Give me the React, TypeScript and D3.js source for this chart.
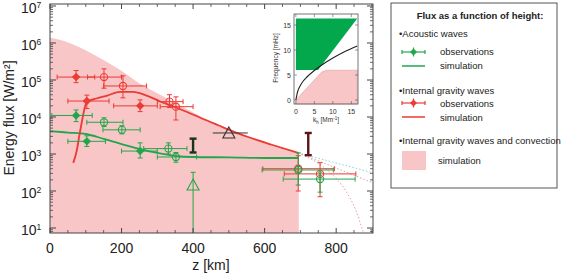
import React from "react";
import * as d3 from "d3";

const W = 561;
const H = 273;
const FONT = "'Liberation Sans', Arial, sans-serif";

// acoustic waves, observations (z in km, flux in W/m2)
const acZ = [73, 103, 252, 151, 201, 331, 352, 694, 755];
const acFlux = [1.1e4, 2.2e3, 1.2e3, 7.2e3, 4.5e3, 1.4e3, 830, 370, 210];
const acZErr = [[5, 118], [50, 155], [200, 300], [103, 204], [148, 252], [262, 383], [300, 410], [593, 792], [652, 853]];
const acFluxErr = [[7.5e3, 1.55e4], [1.6e3, 3.1e3], [780, 2e3], [5.5e3, 9.5e3], [3.5e3, 5.8e3], [1e3, 2e3], [600, 1.1e3], [145, 1070], [93, 325]];
const acOpen = [false, false, false, true, true, true, true, true, true];

// internal gravity waves, observations
const igZ = [73, 103, 252, 151, 204, 334, 352, 694, 755];
const igFlux = [1.2e5, 2.7e4, 2.0e4, 1.2e5, 6.9e4, 2.6e4, 1.9e4, 400, 290];
const igZErr = [[20, 125], [50, 165], [178, 300], [105, 200], [150, 270], [300, 372], [308, 400], [595, 795], [655, 855]];
const igFluxErr = [[8.5e4, 1.8e5], [1.7e4, 3.9e4], [1.4e4, 2.9e4], [6e4, 2e5], [3.3e4, 1.3e5], [1.8e4, 4e4], [8.3e3, 3.5e4], [100, 900], [70, 580]];
const igOpen = [false, false, false, true, true, true, true, true, true];

// simulations
const acSimZ = [0, 50, 100, 150, 200, 250, 300, 350, 400, 500, 600, 694];
const acSimFlux = [4170, 3800, 3470, 2570, 1860, 1380, 1070, 890, 830, 810, 780, 780];
const igSimZ = [65, 75, 82, 90, 97, 103, 130, 160, 196, 232, 270, 308, 340, 380, 420, 470, 520, 560, 620, 694];
const igSimFlux = [575, 1260, 3160, 8300, 17800, 25700, 31600, 38000, 47900, 47900, 38000, 26300, 20000, 14100, 9550, 6000, 3800, 2750, 1780, 1070];
const convZ = [0, 47, 98, 148, 196, 243, 308, 370, 420, 470, 520, 560, 620, 694];
const convFlux = [1.38e6, 1.07e6, 6.5e5, 3.5e5, 1.86e5, 9e4, 4e4, 1.9e4, 1.05e4, 6.3e3, 3.8e3, 2.75e3, 1.78e3, 1.07e3];

// dotted extrapolations beyond 694 km
const dotCyanZ = [694, 903];
const dotCyanFlux = [1070, 310];
const dotPinkZ = [694, 780, 903];
const dotPinkFlux = [1070, 500, 166];
const dotPink2Z = [694, 760, 800, 830, 855, 875];
const dotPink2Flux = [1070, 480, 220, 90, 30, 8];

// other measurements
const triGreen = { z: 400, flux: 145, top: 320 };
const triBlack = { z: 500, flux: 3700, zr: [455, 553] };
const limitGreen = { z: 400, lo: 1100, hi: 2600 };
const limitRed = { z: 722, lo: 930, hi: 3700 };

// inset: dispersion diagram
const insetGreenK = [0, 16.6, 6, 0];
const insetGreenF = [16.3, 16.3, 6, 6];
const insetPinkK = [0, 7, 8.3, 16.6, 16.6, 0];
const insetPinkF = [0, 5.6, 5.95, 5.95, -0.8, -0.8];
const insetCurveK = [0, 0.5, 1, 2, 3, 5, 7, 10, 13, 16.6];
const insetCurveF = [0, 1.7, 2.6, 3.8, 4.6, 5.9, 7.0, 8.4, 9.6, 10.8];

const xTicks = [0, 200, 400, 600, 800];
const yExp = [1, 2, 3, 4, 5, 6, 7];
const insetTicks = [0, 5, 10, 15];

const RED = "#ec3a34";
const GREEN = "#22a64c";
const PINK = "#f8c6c6";

const x = d3.scaleLinear().domain([0, 903]).range([50, 373]);
const y = d3.scaleLog().domain([10 ** 0.865, 10 ** 7.054]).range([233, 4]);
const ix = d3.scaleLinear().domain([-0.5, 16.8]).range([294, 358]);
const iy = d3.scaleLinear().domain([-0.8, 17.2]).range([104, 14]);

const lineGen = (zs: number[], vs: number[]) =>
  d3.line<number>().x((_, i) => x(zs[i])).y((_, i) => y(vs[i])).curve(d3.curveMonotoneX)(zs) || "";

function ObsPoint({ z, v, zr, vr, open, color }: any) {
  const cx = x(z);
  const cy = y(v);
  const c = 2.5;
  return (
    <g stroke={color} strokeWidth={1}>
      <line x1={x(zr[0])} x2={x(zr[1])} y1={cy} y2={cy} />
      <line x1={x(zr[0])} x2={x(zr[0])} y1={cy - c} y2={cy + c} />
      <line x1={x(zr[1])} x2={x(zr[1])} y1={cy - c} y2={cy + c} />
      <line x1={cx} x2={cx} y1={y(vr[0])} y2={y(vr[1])} />
      <line x1={cx - c} x2={cx + c} y1={y(vr[0])} y2={y(vr[0])} />
      <line x1={cx - c} x2={cx + c} y1={y(vr[1])} y2={y(vr[1])} />
      {open ? (
        <circle cx={cx} cy={cy} r={3.6} fill="none" strokeWidth={1.1} />
      ) : (
        <path d={`M${cx},${cy - 4.2}L${cx + 4.2},${cy}L${cx},${cy + 4.2}L${cx - 4.2},${cy}Z`} fill={color} stroke="none" />
      )}
    </g>
  );
}

function Limit({ z, lo, hi, color }: any) {
  const cx = x(z);
  return (
    <g stroke={color} strokeWidth={2.4}>
      <line x1={cx} x2={cx} y1={y(lo)} y2={y(hi)} />
      <line x1={cx - 3.5} x2={cx + 3.5} y1={y(lo)} y2={y(lo)} />
      <line x1={cx - 3.5} x2={cx + 3.5} y1={y(hi)} y2={y(hi)} />
    </g>
  );
}

function Triangle({ cx, cy, color }: any) {
  return <path d={`M${cx},${cy - 6}L${cx + 6},${cy + 5}L${cx - 6},${cy + 5}Z`} fill="none" stroke={color} strokeWidth={1.1} />;
}

export default function App() {
  const minor: number[] = [];
  for (let e = 0; e < 7; e++) for (let m = 2; m <= 9; m++) {
    const v = m * 10 ** e;
    if (v > y.domain()[0] && v < y.domain()[1]) minor.push(v);
  }
  const xMinor = d3.range(50, 903, 50).filter((t) => t % 200 !== 0);

  const convArea = d3
    .area<number>()
    .x((_, i) => x(convZ[i]))
    .y0(233)
    .y1((_, i) => y(convFlux[i]))
    .curve(d3.curveMonotoneX)(convZ) || "";

  const insetPoly = (ks: number[], fs: number[]) => ks.map((k, i) => `${ix(k)},${iy(fs[i])}`).join(" ");
  const insetCurve = d3.line<number>().x((k) => ix(k)).y((_, i) => iy(insetCurveF[i])).curve(d3.curveMonotoneX)(insetCurveK) || "";

  return (
    <svg width={W} height={H} style={{ position: "absolute", left: 0, top: 0, background: "#fff" }} fontFamily={FONT}>
      {/* convection + IGW simulation band */}
      <path d={`${convArea}`} fill={PINK} />
      <line x1={x(694)} x2={x(694)} y1={y(1070)} y2={233} stroke={PINK} />

      {/* dotted extrapolations */}
      <path d={lineGen(dotCyanZ, dotCyanFlux)} fill="none" stroke="#7fd6d0" strokeWidth={1} strokeDasharray="1.5,2" />
      <path d={lineGen(dotPinkZ, dotPinkFlux)} fill="none" stroke="#f29a9a" strokeWidth={1} strokeDasharray="1.5,2" />
      <path d={lineGen(dotPink2Z, dotPink2Flux)} fill="none" stroke="#f29a9a" strokeWidth={1} strokeDasharray="1.5,2" />

      {/* simulation lines */}
      <path d={lineGen(acSimZ, acSimFlux)} fill="none" stroke={GREEN} strokeWidth={1.8} />
      <path d={lineGen(igSimZ, igSimFlux)} fill="none" stroke={RED} strokeWidth={1.8} />

      {/* observations */}
      {igZ.map((z, i) => (
        <ObsPoint key={"r" + i} z={z} v={igFlux[i]} zr={igZErr[i]} vr={igFluxErr[i]} open={igOpen[i]} color={RED} />
      ))}
      {acZ.map((z, i) => (
        <ObsPoint key={"g" + i} z={z} v={acFlux[i]} zr={acZErr[i]} vr={acFluxErr[i]} open={acOpen[i]} color={GREEN} />
      ))}

      {/* green triangle with line down to axis */}
      <g stroke={GREEN} strokeWidth={1}>
        <line x1={x(triGreen.z)} x2={x(triGreen.z)} y1={y(triGreen.top)} y2={233} />
        <line x1={x(triGreen.z) - 2.5} x2={x(triGreen.z) + 2.5} y1={y(triGreen.top)} y2={y(triGreen.top)} />
      </g>
      <Triangle cx={x(triGreen.z)} cy={y(triGreen.flux)} color={GREEN} />

      {/* black triangle */}
      <line x1={x(triBlack.zr[0])} x2={x(triBlack.zr[1])} y1={y(triBlack.flux)} y2={y(triBlack.flux)} stroke="#333" strokeWidth={1} />
      <Triangle cx={x(triBlack.z)} cy={y(triBlack.flux)} color="#333" />

      <Limit z={limitGreen.z} lo={limitGreen.lo} hi={limitGreen.hi} color="#1c3320" />
      <Limit z={limitRed.z} lo={limitRed.lo} hi={limitRed.hi} color="#5c1414" />

      {/* main frame and ticks */}
      <rect x={50} y={4} width={323} height={229} fill="none" stroke="#444" strokeWidth={1} />
      {minor.map((v) => (
        <g key={"ym" + v} stroke="#444" strokeWidth={0.8}>
          <line x1={50} x2={53} y1={y(v)} y2={y(v)} />
          <line x1={373} x2={370} y1={y(v)} y2={y(v)} />
        </g>
      ))}
      {yExp.map((e) => (
        <g key={"y" + e}>
          <line x1={50} x2={56} y1={y(10 ** e)} y2={y(10 ** e)} stroke="#444" />
          <line x1={373} x2={367} y1={y(10 ** e)} y2={y(10 ** e)} stroke="#444" />
          <text x={21} y={y(10 ** e) + 7} fontSize={14} fill="#222">
            10
            <tspan dy={-5} fontSize={8.5}>{e}</tspan>
          </text>
        </g>
      ))}
      {xMinor.map((t) => (
        <g key={"xm" + t} stroke="#444" strokeWidth={0.8}>
          <line x1={x(t)} x2={x(t)} y1={233} y2={230} />
          <line x1={x(t)} x2={x(t)} y1={4} y2={7} />
        </g>
      ))}
      {xTicks.map((t) => (
        <g key={"x" + t}>
          <line x1={x(t)} x2={x(t)} y1={233} y2={228} stroke="#444" />
          <line x1={x(t)} x2={x(t)} y1={4} y2={9} stroke="#444" />
          <text x={x(t)} y={253} fontSize={14} textAnchor="middle" fill="#222">
            {t}
          </text>
        </g>
      ))}
      <text x={211} y={270} fontSize={14} textAnchor="middle" fill="#222">z [km]</text>
      <text transform="translate(14,118) rotate(-90)" fontSize={14} textAnchor="middle" fill="#222">
        Energy flux [W/m²]
      </text>

      {/* inset */}
      <rect x={294} y={14} width={64} height={90} fill="#fff" />
      <polygon points={insetPoly(insetPinkK, insetPinkF)} fill={PINK} stroke="#e79a9a" strokeWidth={0.6} />
      <polygon points={insetPoly(insetGreenK, insetGreenF)} fill="#04a84c" />
      <path d={insetCurve} fill="none" stroke="#222" strokeWidth={1.1} />
      <rect x={294} y={14} width={64} height={90} fill="none" stroke="#555" strokeWidth={0.8} />
      {insetTicks.map((t) => (
        <g key={"it" + t} stroke="#555" strokeWidth={0.6}>
          <line x1={ix(t)} x2={ix(t)} y1={104} y2={101} />
          <line x1={ix(t)} x2={ix(t)} y1={14} y2={17} />
          <line x1={294} x2={297} y1={iy(t)} y2={iy(t)} />
          <line x1={358} x2={355} y1={iy(t)} y2={iy(t)} />
        </g>
      ))}
      {insetTicks.map((t) => (
        <g key={"il" + t} fontSize={7} fill="#333">
          <text x={ix(t)} y={114} textAnchor="middle">{t}</text>
          <text x={291} y={iy(t) + 2.5} textAnchor="end">{t}</text>
        </g>
      ))}
      <text transform="translate(278,58) rotate(-90)" fontSize={6.5} textAnchor="middle" fill="#333">
        Frequency [mHz]
      </text>
      <text x={326} y={122} fontSize={6.5} textAnchor="middle" fill="#333">
        k
        <tspan dy={1.5} fontSize={4.5}>h</tspan>
        <tspan dy={-1.5}> [Mm</tspan>
        <tspan dy={-2.5} fontSize={4.5}>-1</tspan>
        <tspan dy={2.5}>]</tspan>
      </text>

      {/* legend */}
      <rect x={391} y={3} width={166} height={185} fill="#fff" stroke="#555" strokeWidth={1} />
      <g fontSize={9.5} fill="#222">
        <text x={480} y={19} textAnchor="middle" fontWeight="bold">Flux as a function of height:</text>
        <text x={399} y={37}>•Acoustic waves</text>
        <text x={440} y={55}>observations</text>
        <text x={440} y={69}>simulation</text>
        <text x={399} y={94}>•Internal gravity waves</text>
        <text x={440} y={107}>observations</text>
        <text x={440} y={121}>simulation</text>
        <text x={399} y={144}>•Internal gravity waves and convection</text>
        <text x={438} y={164}>simulation</text>
      </g>
      {[
        { cy: 52, color: GREEN },
        { cy: 103, color: RED },
      ].map((d) => (
        <g key={d.cy} stroke={d.color} strokeWidth={1.2}>
          <line x1={402} x2={425} y1={d.cy} y2={d.cy} />
          <line x1={402} x2={402} y1={d.cy - 2} y2={d.cy + 2} />
          <line x1={425} x2={425} y1={d.cy - 2} y2={d.cy + 2} />
          <line x1={413.5} x2={413.5} y1={d.cy - 4.5} y2={d.cy + 4.5} />
          <path d={`M413.5,${d.cy - 3.5}L417,${d.cy}L413.5,${d.cy + 3.5}L410,${d.cy}Z`} fill={d.color} stroke="none" />
        </g>
      ))}
      <line x1={402} x2={425} y1={66} y2={66} stroke={GREEN} strokeWidth={1.5} />
      <line x1={402} x2={425} y1={117} y2={117} stroke={RED} strokeWidth={1.5} />
      <rect x={402} y={151} width={24} height={19} fill={PINK} />
    </svg>
  );
}
